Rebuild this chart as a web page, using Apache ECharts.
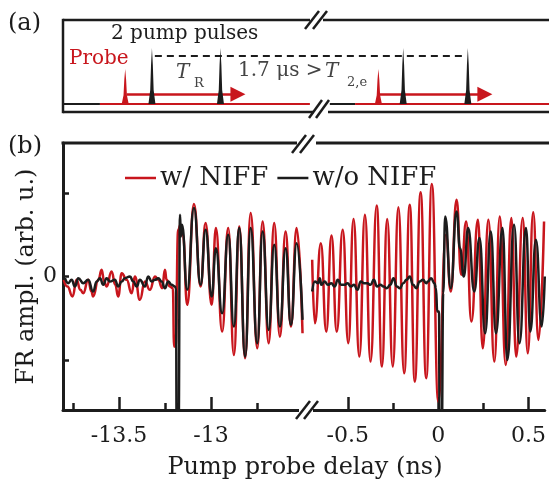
<!DOCTYPE html>
<html>
<head>
<meta charset="utf-8">
<script src="https://cdn.jsdelivr.net/npm/echarts@6/dist/echarts.min.js"></script>
<style>
html,body{margin:0;padding:0;background:#fff;}
#c{width:549px;height:480px;}
</style>
</head>
<body>
<div id="c"></div>
<script>
// ---------------- data: panel (b) ----------------
// [delay (ns), FR amplitude (arb. u.)]
const redLeft = [[-13.80,-0.04],[-13.78,-0.12],[-13.752,-0.24],[-13.73,-0.04],[-13.71,-0.16],[-13.694,-0.20],[-13.667,-0.04],[-13.65,-0.18],[-13.64,-0.24],[-13.612,-0.04],[-13.594,0.08],[-13.58,-0.06],[-13.567,-0.12],[-13.54,0.06],[-13.52,-0.10],[-13.504,-0.24],[-13.485,0.04],[-13.458,-0.04],[-13.431,-0.20],[-13.413,0.00],[-13.386,-0.28],[-13.359,-0.06],[-13.332,-0.16],[-13.304,0.00],[-13.286,-0.04],[-13.265,-0.14],[-13.25,0.08],[-13.241,-0.04],[-13.223,-0.12],[-13.207,-0.14],[-13.200,-0.84],[-13.192,-0.84],[-13.178,0.56],[-13.165,0.62],[-13.152,0.50],[-13.129,-0.34],[-13.092,0.87],[-13.056,-0.12],[-13.029,0.64],[-12.996,-0.34],[-12.973,0.58],[-12.939,-0.66],[-12.906,0.58],[-12.875,-0.94],[-12.846,0.60],[-12.814,-0.98],[-12.784,0.76],[-12.748,-0.86],[-12.719,0.66],[-12.686,-0.80],[-12.656,0.64],[-12.625,-0.72],[-12.594,0.54],[-12.565,-0.60],[-12.534,0.58],[-12.502,-0.68]];
const blackLeft = [[-13.793,-0.02],[-13.776,-0.08],[-13.757,-0.04],[-13.739,-0.12],[-13.721,-0.02],[-13.694,-0.08],[-13.667,-0.04],[-13.640,-0.18],[-13.621,-0.06],[-13.603,-0.02],[-13.585,-0.10],[-13.567,-0.02],[-13.549,-0.06],[-13.522,-0.04],[-13.504,-0.12],[-13.485,-0.06],[-13.467,-0.02],[-13.440,0.00],[-13.422,-0.06],[-13.404,-0.12],[-13.386,-0.04],[-13.359,-0.12],[-13.341,0.00],[-13.322,-0.06],[-13.304,-0.04],[-13.286,-0.02],[-13.268,-0.06],[-13.250,-0.14],[-13.232,-0.06],[-13.214,-0.10],[-13.196,-0.12],[-13.190,-0.14],[-13.186,-1.9],[-13.176,-1.9],[-13.168,0.74],[-13.163,0.48],[-13.157,0.62],[-13.129,-0.16],[-13.092,0.82],[-13.056,-0.10],[-13.029,0.56],[-12.996,-0.24],[-12.973,0.34],[-12.939,-0.44],[-12.906,0.50],[-12.875,-0.60],[-12.846,0.58],[-12.814,-0.96],[-12.784,0.58],[-12.748,-0.80],[-12.719,0.54],[-12.686,-0.64],[-12.656,0.38],[-12.625,-0.60],[-12.594,0.34],[-12.565,-0.58],[-12.534,0.40],[-12.502,-0.52]];
const redRight = [[-0.697,0.20],[-0.682,-0.56],[-0.649,0.40],[-0.619,-0.66],[-0.590,0.49],[-0.561,-0.66],[-0.528,0.56],[-0.497,-0.80],[-0.468,0.69],[-0.436,-0.96],[-0.405,0.74],[-0.374,-1.02],[-0.340,0.85],[-0.311,-1.08],[-0.282,0.69],[-0.251,-1.08],[-0.220,0.83],[-0.188,-1.16],[-0.157,0.86],[-0.129,-1.26],[-0.097,1.01],[-0.066,-1.22],[-0.035,1.11],[0.001,-1.50],[0.043,0.50],[0.070,-0.18],[0.102,0.92],[0.128,0.02],[0.155,0.66],[0.184,-0.54],[0.220,0.68],[0.247,-0.86],[0.278,0.68],[0.311,-1.02],[0.341,0.72],[0.374,-1.06],[0.405,0.70],[0.432,-0.96],[0.468,0.70],[0.496,-0.92],[0.526,0.77],[0.555,-0.76],[0.586,0.66]];
const blackRight = [[-0.697,-0.18],[-0.682,-0.06],[-0.664,-0.08],[-0.655,-0.02],[-0.646,-0.10],[-0.628,-0.06],[-0.610,-0.10],[-0.591,-0.08],[-0.573,-0.12],[-0.555,-0.04],[-0.537,-0.10],[-0.519,-0.10],[-0.501,-0.08],[-0.483,-0.12],[-0.465,-0.10],[-0.447,-0.16],[-0.428,-0.06],[-0.410,-0.08],[-0.392,-0.08],[-0.374,-0.10],[-0.356,-0.04],[-0.338,-0.12],[-0.320,-0.10],[-0.302,-0.12],[-0.284,-0.14],[-0.265,-0.10],[-0.247,-0.02],[-0.229,-0.12],[-0.211,-0.14],[-0.193,-0.08],[-0.175,-0.04],[-0.157,0.00],[-0.139,-0.10],[-0.121,-0.14],[-0.102,-0.06],[-0.084,-0.04],[-0.066,-0.08],[-0.057,-0.06],[-0.039,-0.02],[-0.021,-0.08],[-0.012,-0.14],[-0.005,-0.42],[0.005,-0.42],[0.008,-1.9],[0.020,-1.9],[0.028,-0.20],[0.039,0.72],[0.070,-0.14],[0.102,0.78],[0.121,0.34],[0.142,0.00],[0.166,0.58],[0.200,-0.18],[0.229,0.46],[0.260,-0.68],[0.291,0.54],[0.320,-0.68],[0.356,0.58],[0.383,-1.00],[0.420,0.62],[0.450,-0.80],[0.486,0.58],[0.510,-0.66],[0.541,0.44],[0.573,-0.60],[0.590,0.00]];

const leftMajorTicks = [-13.5, -13];
const leftMinorTicks = [-13.75, -13.25, -12.75];
const rightMajorTicks = [-0.5, 0, 0.5];
const rightMinorTicks = [-0.25, 0.25];
const yTicks = [-1, 0, 1];
const yLabels = [0];
const seriesNames = ['w/ NIFF', 'w/o NIFF'];

// ---------------- data: panel (a) schematic (time in schematic units 0..100) ----------------
const pumpTimes = [18.3, 32.4, 70.0, 83.3];
const pumpHeights = [0.667, 0.667, 0.667, 0.667];
const probeTimes = [12.8, 64.9];
const probeHeights = [0.417, 0.417];
const arrowSpans = [[13.1, 36.0], [65.2, 86.8]];
const arrowLevel = 0.115;
const dashedSpan = [18.9, 83.1];
const dashedLevel = 0.571;
const baseBlackSpans = [[0, 7.6], [54.9, 60.1]];
const baseRedSpans = [[7.6, 50.8], [60.1, 100]];

// ---------------- styling ----------------
const RED = '#c8161d';
const BLK = '#1c1c1c';
const FF = '"DejaVu Serif"';

const chart = echarts.init(document.getElementById('c'), null, {renderer: 'canvas'});

function majorAxis(grid, min, max, ticks) {
  return {
    type: 'value', gridIndex: grid, min: min, max: max, position: 'bottom',
    axisLine: {show: true, onZero: false, lineStyle: {color: BLK, width: 3}},
    axisTick: {show: true, inside: true, length: 13, customValues: ticks, lineStyle: {color: BLK, width: 2.5}},
    axisLabel: {show: true, customValues: ticks, margin: 15, color: BLK, fontFamily: FF, fontSize: 22,
      formatter: v => String(v)},
    splitLine: {show: false}
  };
}
function minorAxis(grid, min, max, ticks) {
  return {
    type: 'value', gridIndex: grid, min: min, max: max, position: 'bottom',
    axisLine: {show: false, onZero: false},
    axisTick: {show: true, inside: true, length: 7, customValues: ticks, lineStyle: {color: BLK, width: 2.5}},
    axisLabel: {show: false},
    splitLine: {show: false}
  };
}

function pulseRenderer(color) {
  return function (params, api) {
    const b = api.coord([api.value(0), 0]);
    const t = api.coord([api.value(0), api.value(1)]);
    const x = b[0], by = b[1], ty = t[1], h = by - ty;
    return {
      type: 'polygon',
      shape: {points: [[x - 3.5, by], [x - 1.7, by - 0.25 * h], [x - 0.9, by - 0.7 * h], [x, ty],
                       [x + 0.9, by - 0.7 * h], [x + 1.7, by - 0.25 * h], [x + 3.5, by]]},
      style: {fill: color}
    };
  };
}

function spanLines(spans, level) {
  return spans.map(s => ({coords: [[s[0], level], [s[1], level]]}));
}

const lineCommon = {type: 'line', showSymbol: false, symbol: 'none', smooth: 0.5, smoothMonotone: 'x', clip: true};

const option = {
  animation: false,
  backgroundColor: '#fff',
  legend: {
    data: seriesNames, left: 120, top: 160, icon: 'rect', itemWidth: 31, itemHeight: 2.5, itemGap: 9,
    textStyle: {fontFamily: FF, fontSize: 26, color: BLK, padding: [0, 0, 0, -1]}
  },
  grid: [
    {left: 63, top: 143, width: 241, height: 267},
    {left: 310, top: 143, width: 239, height: 267},
    {left: 63, top: 20, width: 486, height: 84}
  ],
  xAxis: [
    majorAxis(0, -13.804, -12.494, leftMajorTicks),
    minorAxis(0, -13.804, -12.494, leftMinorTicks),
    majorAxis(1, -0.709, 0.590, rightMajorTicks),
    minorAxis(1, -0.709, 0.590, rightMinorTicks),
    {type: 'value', gridIndex: 2, min: 0, max: 100, show: false}
  ],
  yAxis: [
    {type: 'value', gridIndex: 0, min: -1.6, max: 1.6,
     name: 'FR ampl. (arb. u.)', nameLocation: 'middle', nameGap: 17, nameRotate: 90,
     nameTextStyle: {fontFamily: FF, fontSize: 24, color: BLK},
     axisLine: {show: true, onZero: false, lineStyle: {color: BLK, width: 3}},
     axisTick: {show: true, inside: true, length: 6, customValues: yTicks, lineStyle: {color: BLK, width: 2.5}},
     axisLabel: {show: true, customValues: yLabels, margin: 6, color: BLK, fontFamily: FF, fontSize: 22},
     splitLine: {show: false}},
    {type: 'value', gridIndex: 1, min: -1.6, max: 1.6, show: false},
    {type: 'value', gridIndex: 2, min: 0, max: 1, show: false}
  ],
  series: [
    Object.assign({}, lineCommon, {name: seriesNames[0], xAxisIndex: 0, yAxisIndex: 0, data: redLeft,
      lineStyle: {color: RED, width: 2.5}, itemStyle: {color: RED}, z: 2}),
    Object.assign({}, lineCommon, {name: seriesNames[0], xAxisIndex: 2, yAxisIndex: 1, data: redRight,
      lineStyle: {color: RED, width: 2.5}, itemStyle: {color: RED}, z: 2}),
    Object.assign({}, lineCommon, {name: seriesNames[1], xAxisIndex: 0, yAxisIndex: 0, data: blackLeft,
      lineStyle: {color: BLK, width: 2.5}, itemStyle: {color: BLK}, z: 3}),
    Object.assign({}, lineCommon, {name: seriesNames[1], xAxisIndex: 2, yAxisIndex: 1, data: blackRight,
      lineStyle: {color: BLK, width: 2.5}, itemStyle: {color: BLK}, z: 3}),
    // panel (a)
    {type: 'lines', coordinateSystem: 'cartesian2d', xAxisIndex: 4, yAxisIndex: 2, silent: true,
     data: spanLines(baseBlackSpans, 0), symbol: 'none', lineStyle: {color: BLK, width: 2, opacity: 1}, z: 2},
    {type: 'lines', coordinateSystem: 'cartesian2d', xAxisIndex: 4, yAxisIndex: 2, silent: true,
     data: spanLines(baseRedSpans, 0), symbol: 'none', lineStyle: {color: RED, width: 2, opacity: 1}, z: 2},
    {type: 'lines', coordinateSystem: 'cartesian2d', xAxisIndex: 4, yAxisIndex: 2, silent: true,
     data: spanLines([dashedSpan], dashedLevel), symbol: 'none',
     lineStyle: {color: BLK, width: 2, opacity: 1, type: [7, 5]}, z: 2},
    {type: 'lines', coordinateSystem: 'cartesian2d', xAxisIndex: 4, yAxisIndex: 2, silent: true,
     data: spanLines(arrowSpans, arrowLevel), symbol: ['none', 'triangle'], symbolSize: [9, 15],
     lineStyle: {color: RED, width: 2.5, opacity: 1}, itemStyle: {color: RED}, z: 3},
    {type: 'custom', xAxisIndex: 4, yAxisIndex: 2, silent: true, z: 4,
     data: pumpTimes.map((t, i) => [t, pumpHeights[i]]), renderItem: pulseRenderer(BLK)},
    {type: 'custom', xAxisIndex: 4, yAxisIndex: 2, silent: true, z: 4,
     data: probeTimes.map((t, i) => [t, probeHeights[i]]), renderItem: pulseRenderer(RED)}
  ],
  graphic: []
};

// frame lines, break marks and texts (decoration)
function gl(x1, y1, x2, y2, w, c) {
  return {type: 'line', silent: true, z: 10, shape: {x1, y1, x2, y2}, style: {stroke: c || BLK, lineWidth: w || 2.5}};
}
function gt(text, x, y, size, opts) {
  opts = opts || {};
  return {type: 'text', silent: true, z: 10, x: x, y: y,
    style: {text: text, font: (opts.italic ? 'italic ' : '') + size + 'px ' + FF, fill: opts.color || BLK,
      align: opts.align || 'left', textAlign: opts.align || 'left',
      verticalAlign: 'middle', textVerticalAlign: 'middle'}};
}
const W = '#ffffff';
option.graphic = [
  // panel (a) frame
  gl(63, 20, 310, 20), gl(323, 20, 549, 20),
  gl(63, 18.8, 63, 113.2),
  gl(63, 112, 314, 112), gl(328, 112, 549, 112),
  gl(305, 29, 319, 11, 2.5), gl(313, 29, 327, 11, 2.5),
  {type: 'rect', silent: true, z: 9, shape: {x: 311, y: 101, width: 18, height: 6}, style: {fill: W}},
  gl(309, 118, 322, 100, 2.5), gl(316, 118, 329, 100, 2.5),
  // panel (b) top frame and breaks
  gl(61.5, 143, 297, 143, 3), gl(316, 143, 549, 143, 3),
  gl(292, 153, 306, 135, 2.5), gl(300, 153, 314, 135, 2.5),
  {type: 'rect', silent: true, z: 9, shape: {x: 299, y: 404, width: 14, height: 10}, style: {fill: W}},
  gl(296, 419, 310, 401, 2.5), gl(304, 419, 318, 401, 2.5),
  // labels
  gt('(a)', 8, 24, 24),
  gt('(b)', 8, 147, 24),
  gt('2 pump pulses', 111, 34, 20),
  gt('Probe', 69, 59, 20, {color: RED}),
  gt('T', 176, 73, 20, {italic: true, color: '#444'}),
  gt('R', 194, 84, 13, {color: '#444'}),
  gt('1.7 μs >', 238, 71, 20, {color: '#444'}),
  gt('T', 325, 72, 20, {italic: true, color: '#444'}),
  gt('2,e', 347, 83, 13, {color: '#444'}),
  gt('Pump probe delay (ns)', 305, 468, 24, {align: 'center'})
];

chart.setOption(option);
</script>
</body>
</html>
